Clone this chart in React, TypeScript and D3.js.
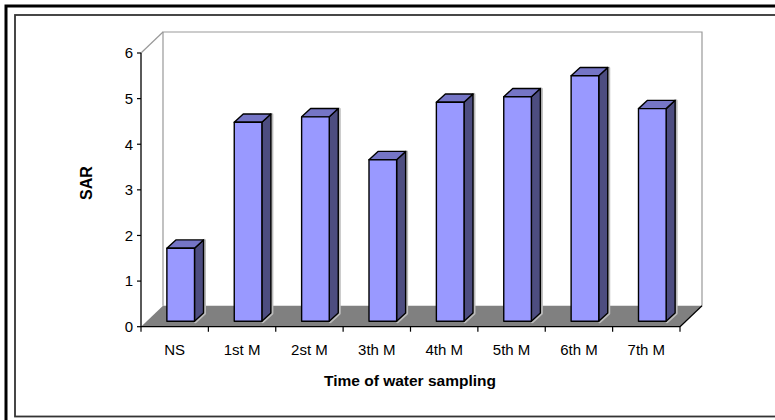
import React from "react";
import * as d3 from "d3";

const categories = ["NS", "1st M", "2st M", "3th M", "4th M", "5th M", "6th M", "7th M"];
const sarValues = [1.6, 4.36, 4.48, 3.54, 4.8, 4.92, 5.38, 4.66];
const yTicks = [0, 1, 2, 3, 4, 5, 6];
const yLabel = "SAR";
const xLabel = "Time of water sampling";

const W = 775;
const H = 420;
const plotLeft = 141;
const plotRight = 680;
const yBottom = 326.7;
const yTop = 53;
const depthX = 22;
const depthY = -21;
const barOffX = 6;
const barOffY = -5.5;
const barDepthX = 9;
const barDepthY = -8.3;

export default function App() {
  const x = d3.scaleBand<string>().domain(categories).range([plotLeft, plotRight]).paddingInner(0).paddingOuter(0);
  const y = d3.scaleLinear().domain([0, 6]).range([yBottom, yTop]);
  const bw = x.bandwidth();
  const barW = bw * 0.41;
  const font = "'Liberation Sans', Arial, sans-serif";

  const backL = plotLeft + depthX;
  const backR = plotRight + depthX;
  const backTop = y(6) + depthY;
  const backBottom = y(0) + depthY;

  const boundaries = categories.map((c) => x(c) as number).concat([plotRight]);

  return (
    <svg width={W} height={H} style={{ position: "absolute", left: 0, top: 0, background: "#fff" }}>
      {/* frames */}
      <rect x={6} y={6} width={W + 20} height={H + 20} fill="none" stroke="#000" strokeWidth={3} />
      <rect x={15} y={15} width={W + 20} height={401.5} fill="none" stroke="#333" strokeWidth={1.8} />

      {/* back wall outline */}
      <path
        d={`M${backL},${backBottom} L${backL},${backTop} L${backR},${backTop} L${backR},${backBottom}`}
        fill="none"
        stroke="#999"
        strokeWidth={1.2}
      />
      <line x1={plotLeft} y1={y(6)} x2={backL} y2={backTop} stroke="#999" strokeWidth={1.2} />

      {/* floor */}
      <path
        d={`M${plotLeft},${yBottom} L${plotRight},${yBottom} L${backR},${backBottom} L${backL},${backBottom} Z`}
        fill="#808080"
        stroke="none"
      />
      <line x1={plotRight} y1={yBottom} x2={backR} y2={backBottom} stroke="#000" strokeWidth={1.2} />

      {/* bars */}
      {categories.map((c, i) => {
        const x0 = (x(c) as number) + (bw - barW) / 2 + barOffX;
        const x1 = x0 + barW;
        const yb = y(0) + barOffY;
        const yt = y(sarValues[i]) + barOffY;
        const front = `M${x0},${yb} L${x0},${yt} L${x1},${yt} L${x1},${yb} Z`;
        const side = `M${x1},${yb} L${x1},${yt} L${x1 + barDepthX},${yt + barDepthY} L${x1 + barDepthX},${yb + barDepthY} Z`;
        const top = `M${x0},${yt} L${x0 + barDepthX},${yt + barDepthY} L${x1 + barDepthX},${yt + barDepthY} L${x1},${yt} Z`;
        return (
          <g key={c} strokeLinejoin="round">
            <path d={side} fill="none" stroke="#bbb" strokeWidth={3} transform="translate(1,0.5)" />
            <path d={side} fill="#4D4D80" stroke="#000" strokeWidth={1.4} />
            <path d={top} fill="#7575C6" stroke="#000" strokeWidth={1.4} />
            <path d={front} fill="#9999FF" stroke="#000" strokeWidth={1.4} />
          </g>
        );
      })}

      {/* y axis */}
      <line x1={plotLeft} y1={y(0)} x2={plotLeft} y2={y(6)} stroke="#000" strokeWidth={1.3} />
      {yTicks.map((t) => (
        <g key={t}>
          <line x1={plotLeft - 4} x2={plotLeft} y1={y(t)} y2={y(t)} stroke="#000" strokeWidth={1.2} />
          <text x={133} y={y(t)} dy="0.36em" textAnchor="end" fontFamily={font} fontSize={15} fill="#000">
            {t}
          </text>
        </g>
      ))}

      {/* x axis */}
      <line x1={plotLeft} y1={yBottom} x2={plotRight} y2={yBottom} stroke="#000" strokeWidth={1.3} />
      {boundaries.map((b, i) => (
        <line key={i} x1={b} x2={b} y1={yBottom} y2={yBottom + 5} stroke="#000" strokeWidth={1.2} />
      ))}
      {categories.map((c) => (
        <text
          key={c}
          x={(x(c) as number) + bw / 2}
          y={355}
          textAnchor="middle"
          fontFamily={font}
          fontSize={15}
          fill="#000"
        >
          {c}
        </text>
      ))}

      {/* axis titles */}
      <text
        transform={`translate(92,183) rotate(-90)`}
        textAnchor="middle"
        fontFamily={font}
        fontSize={16}
        fontWeight="bold"
        fill="#000"
      >
        {yLabel}
      </text>
      <text x={410} y={386} textAnchor="middle" fontFamily={font} fontSize={15.5} fontWeight="bold" fill="#000">
        {xLabel}
      </text>
    </svg>
  );
}
